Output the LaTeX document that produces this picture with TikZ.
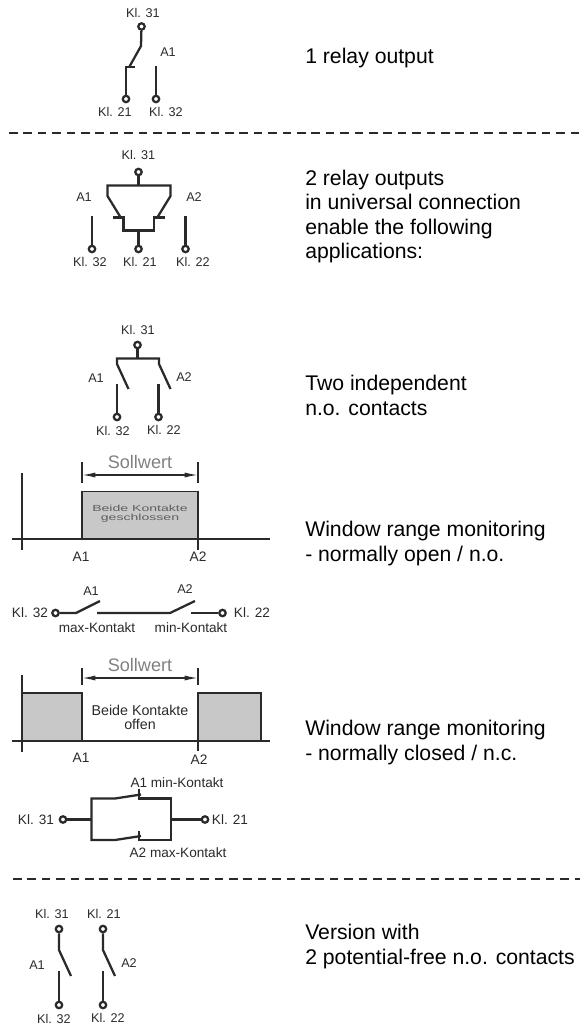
\documentclass[tikz,border=0pt]{standalone}
\usepackage{fontspec}
\setmainfont{Liberation Sans}
\usetikzlibrary{arrows.meta}
\definecolor{ink}{HTML}{2A2A2A}
\definecolor{soft}{HTML}{808080}
\definecolor{boxfill}{HTML}{C8C8C8}
\tikzset{
  x=0.75pt,y=-0.75pt,
  term/.style={circle,draw=ink,fill=white,line width=1.7pt,minimum size=4.8pt,inner sep=0pt},
  wire/.style={draw=ink,line width=1.7pt,line cap=butt,line join=miter},
  thin wire/.style={draw=ink,line width=1.2pt},
  lab/.style={text=ink,font=\fontsize{9.5pt}{11pt}\selectfont,inner sep=0pt},
  rowlab/.style={text=ink,font=\fontsize{10.2pt}{12pt}\selectfont,inner sep=0pt},
  axlab/.style={text=ink,font=\fontsize{10.3pt}{12pt}\selectfont,inner sep=0pt},
  small/.style={text=soft!60!ink,font=\fontsize{6.6pt}{6.5pt}\selectfont,inner sep=0pt,align=center},
  mid/.style={text=ink,font=\fontsize{10.7pt}{10pt}\selectfont,inner sep=0pt,align=center},
  soll/.style={text=soft,font=\fontsize{13.6pt}{15pt}\selectfont,inner sep=0pt},
  desc/.style={text=black,font=\fontsize{15.9pt}{18.4pt}\selectfont,inner sep=0pt,anchor=west,align=left},
  sep/.style={draw=ink,line width=0.9pt,dash pattern=on 6.4pt off 4.4pt},
  band/.style={draw=ink,line width=1.3pt,fill=boxfill},
  dim/.style={draw=ink,line width=1.1pt,{Latex[length=10pt,width=3.8pt]}-{Latex[length=10pt,width=3.8pt]}},
}
\begin{document}
\begin{tikzpicture}
\useasboundingbox (0,0) rectangle (580,1028);
% separators
\coordinate (s1a) at (9,133); \coordinate (s1b) at (580,133);
\coordinate (s2a) at (13,879); \coordinate (s2b) at (580,879);
\draw[sep] (s1a) -- (s1b);
\draw[sep] (s2a) -- (s2b);
% ---- diagram 1
\node[lab] (a31) at (143,13) {Kl. 31};
\node[lab] (a1) at (168,52.5) {A1};
\node[lab] (a21) at (115,112) {Kl. 21};
\node[lab] (a32) at (166,112) {Kl. 32};
\node[term] (at) at (141.5,26.5) {};
\node[term] (ab) at (126,99) {};
\node[term] (ac) at (156,99) {};
\coordinate (ak) at (141,46); \coordinate (ae) at (129.5,66.5);
\coordinate (ad) at (126,67);
\draw[wire] (at) -- (ak) -- (ae);
\draw[wire] (ab) -- (ad);
\draw[wire] (124.5,67) -- (135,67);
\coordinate (ac2) at (156,66);
\draw[wire] (ac) -- (ac2);
% ---- diagram 2
\node[lab] (b31) at (138.5,155) {Kl. 31};
\node[lab] (bA1) at (84,197.5) {A1};
\node[lab] (bA2) at (194,197.5) {A2};
\node[lab] (b32) at (90,262) {Kl. 32};
\node[lab] (b21) at (140,261.5) {Kl. 21};
\node[lab] (b22) at (193,262) {Kl. 22};
\node[term] (bt) at (138.5,172) {};
\node[term] (bl) at (92,249) {};
\node[term] (bm) at (138.5,249) {};
\node[term] (br) at (185.5,249) {};
\coordinate (btj) at (138.5,185); \coordinate (bbj) at (138.5,230);
\draw[wire] (bt) -- (btj);
\draw[wire] (121,218) -- (107.5,196) -- (107.5,185.5) -- (170.5,185.5) -- (170.5,196) -- (157,218);
\draw[wire] (bm) -- (bbj);
\draw[wire] (113,217.5) -- (123.5,217.5) -- (123.5,230.5) -- (154,230.5) -- (154,217.5) -- (165,217.5);
\coordinate (bl2) at (92,216); \coordinate (br2) at (185.5,216);
\draw[wire] (bl) -- (bl2);
\draw[wire] (br) -- (br2);
% ---- diagram 3
\node[lab] (c31) at (138,329.5) {Kl. 31};
\node[lab] (cA1) at (96,378) {A1};
\node[lab] (cA2) at (184,377) {A2};
\node[lab] (c32) at (113,431) {Kl. 32};
\node[lab] (c22) at (164,430) {Kl. 22};
\node[term] (ct) at (137.5,345) {};
\node[term] (cl) at (117,417) {};
\node[term] (cr) at (158.5,417) {};
\coordinate (ctj) at (137.5,358.5);
\draw[wire] (ct) -- (ctj);
\draw[wire] (128.5,389) -- (117,364) -- (117,358.5) -- (159,358.5) -- (159,364) -- (170.5,389);
\coordinate (cl2) at (117,384); \coordinate (cr2) at (158.5,384);
\draw[wire] (cl) -- (cl2);
\draw[wire] (cr) -- (cr2);
% ---- chart 1
\node[soll] (d0) at (140,462) {Sollwert};
\coordinate (dl) at (82,475); \coordinate (dr) at (198,475);
\draw[dim] (dl) -- (dr);
\draw[thin wire] (82,462) -- (82,483);
\draw[thin wire] (198,462) -- (198,483);
\draw[band] (82,491.5) rectangle (198,539);
\draw[thin wire] (198,539) -- (198,550);
\draw[wire] (12,539) -- (270,539);
\draw[wire] (22,473) -- (22,550);
\node[small] (d1) at (140,513.5) {\scalebox{1.6}[1]{Beide Kontakte}\\\scalebox{1.6}[1]{geschlossen}};
\node[axlab] (dA1) at (81,557) {A1};
\node[axlab] (dA2) at (198,557) {A2};
% ---- contact row 1
\node[rowlab] (e32) at (30,613) {Kl. 32};
\node[term] (el) at (55.5,613) {};
\node[term] (er) at (222.5,613) {};
\node[rowlab] (e22) at (252,613) {Kl. 22};
\node[lab] (eA1) at (91,591) {A1};
\node[lab] (eA2) at (185,589.5) {A2};
\node[rowlab] (emax) at (97,628) {max-Kontakt};
\node[rowlab] (emin) at (191,628) {min-Kontakt};
\coordinate (e1) at (76,613); \coordinate (e1t) at (100,601);
\coordinate (e2) at (97,613); \coordinate (e3) at (170,613); \coordinate (e3t) at (195,601);
\coordinate (e4) at (191,613);
\draw[wire] (el) -- (e1) -- (e1t);
\draw[wire] (e2) -- (e3) -- (e3t);
\draw[wire] (er) -- (e4);
% ---- chart 2
\node[soll] (f0) at (140,665) {Sollwert};
\coordinate (fl) at (82,678); \coordinate (fr) at (198,678);
\draw[dim] (fl) -- (fr);
\draw[thin wire] (82,668) -- (82,685);
\draw[thin wire] (198,668) -- (198,685);
\draw[band] (22,693) rectangle (82,741);
\draw[band] (198,693) rectangle (261,741);
\draw[thin wire] (198,741) -- (198,751);
\draw[wire] (12,741) -- (270,741);
\draw[wire] (22,675) -- (22,752);
\node[mid] (f1) at (140,717.5) {Beide Kontakte\\offen};
\node[axlab] (fA1) at (81,758) {A1};
\node[axlab] (fA2) at (199,759.5) {A2};
% ---- contact row 2
\node[rowlab] (g31) at (36,819.5) {Kl. 31};
\node[term] (gl) at (63,819.5) {};
\node[term] (gr) at (205,819.5) {};
\node[rowlab] (g21) at (230,819.5) {Kl. 21};
\node[rowlab] (gA1) at (177,783) {A1 min-Kontakt};
\node[rowlab] (gA2) at (178,853) {A2 max-Kontakt};
\coordinate (gbl) at (91.5,819.5); \coordinate (gbr) at (171,819.5);
\draw[wire] (gl) -- (gbl);
\draw[wire] (gr) -- (gbr);
\draw[wire] (138,798.5) -- (171,798.5) -- (171,840) -- (138,840);
\draw[wire] (141,794.5) -- (115,798.5) -- (91.5,798.5) -- (91.5,840) -- (115,840) -- (141,836);
\draw[wire] (139,789) -- (139,798.5);
\draw[wire] (139,831) -- (139,840);
% ---- last diagram
\node[lab] (h31) at (52,914) {Kl. 31};
\node[lab] (h21) at (104,914) {Kl. 21};
\node[lab] (hA1) at (37,965) {A1};
\node[lab] (hA2) at (129,963) {A2};
\node[lab] (h32) at (54,1019) {Kl. 32};
\node[lab] (h22) at (108,1018) {Kl. 22};
\node[term] (hlt) at (59,929) {};
\node[term] (hrt) at (103,929) {};
\node[term] (hlb) at (59,1005) {};
\node[term] (hrb) at (103,1005) {};
\coordinate (hl1) at (59,950); \coordinate (hl2) at (71,976);
\coordinate (hr1) at (103,950); \coordinate (hr2) at (115,976);
\coordinate (hl3) at (59,971); \coordinate (hr3) at (103,971);
\draw[wire] (hlt) -- (hl1) -- (hl2);
\draw[wire] (hrt) -- (hr1) -- (hr2);
\draw[wire] (hlb) -- (hl3);
\draw[wire] (hrb) -- (hr3);
% ---- descriptions
\node[desc] (t1) at (305,58) {1 relay output};
\node[desc] (t2) at (305,216.5) {2 relay outputs\\in universal connection\\enable the following\\applications:};
\node[desc] (t3) at (305,395.5) {Two independent\\n.o. contacts};
\node[desc] (t4) at (305,543.5) {Window range monitoring\\- normally open / n.o.};
\node[desc] (t5) at (305,742.5) {Window range monitoring\\- normally closed / n.c.};
\node[desc] (t6) at (305,946.5) {Version with\\2 potential-free n.o. contacts};
\end{tikzpicture}
\end{document}
